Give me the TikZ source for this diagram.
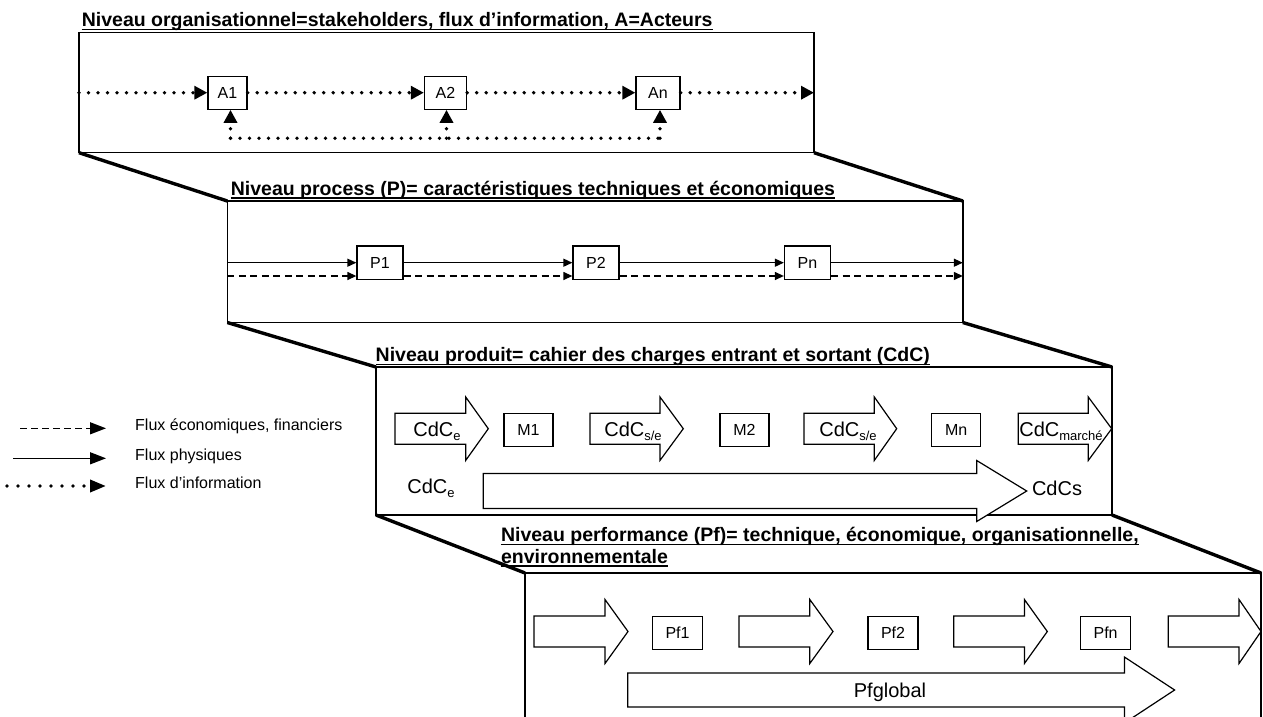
\documentclass[tikz,border=0pt]{standalone}
\usepackage{fontspec}
\setmainfont{Liberation Sans}
\usetikzlibrary{arrows.meta,calc}
\newcommand\sbs[1]{\raisebox{-0.22em}{\fontsize{13}{13}\selectfont #1}}
\newcommand\blkarrow[6]{%
  \draw[blk] (#1,#4-#5) -- (#2,#4-#5) -- (#2,#4-#6) -- (#3,#4) -- (#2,#4+#6) -- (#2,#4+#5) -- (#1,#4+#5) -- cycle;}
\begin{document}
\begin{tikzpicture}[x=1pt,y=-1pt,
  frame/.style={draw, line width=1.5pt, inner sep=0pt, outer sep=0pt, anchor=north west},
  link/.style={line width=3.4pt},
  ttl/.style={inner sep=0pt, anchor=base west, font=\fontsize{19.5}{22}\selectfont\bfseries},
  ubar/.style={line width=1.8pt},
  sbox/.style={draw, line width=1.3pt, inner sep=0pt, font=\fontsize{16}{18}\selectfont},
  blk/.style={draw, line width=1.2pt, fill=white},
  big/.style={inner sep=0pt, anchor=base, font=\fontsize{20}{22}\selectfont},
  lgd/.style={inner sep=0pt, anchor=mid west, font=\fontsize{16}{18}\selectfont},
  dotflow/.style={line width=3.8pt, line cap=round, dash pattern=on 0pt off 9.5pt, -{Triangle[length=13pt,width=13pt]}},
  dotline/.style={line width=3.8pt, line cap=round, dash pattern=on 0pt off 9.5pt},
  solidflow/.style={line width=1.4pt, -{Triangle[length=9pt,width=8pt]}},
  dashflow/.style={line width=1.3pt, dash pattern=on 7pt off 4.5pt, -{Triangle[length=9pt,width=8pt]}},
]
\useasboundingbox (0,0) rectangle (1263,717);
\fill[white] (0,0) rectangle (1263,717);
\clip (0,0) rectangle (1263,717);

% ---------- frames ----------
\node[frame, minimum width=735pt, minimum height=120pt] (L1) at (79,32.7) {};
\node[frame, minimum width=735.5pt, minimum height=121.5pt] (L2) at (227.3,201) {};
\node[frame, minimum width=736pt, minimum height=148pt] (L3) at (376,367) {};
\node[frame, minimum width=736pt, minimum height=220pt] (L4) at (525,573) {};

\draw[link] (L1.south west) -- (L2.north west);
\draw[link] (L1.south east) -- (L2.north east);
\draw[link] (L2.south west) -- (L3.north west);
\draw[link] (L2.south east) -- (L3.north east);
\draw[link] (L3.south west) -- (L4.north west);
\draw[link] (L3.south east) -- (L4.north east);

% ---------- titles ----------
\node[ttl] (t1) at (81.7,26.5) {Niveau organisationnel=stakeholders, flux d’information, A=Acteurs};
\draw[ubar] ([yshift=-3pt]t1.base west) -- ([yshift=-3pt]t1.base east);
\node[ttl] (t2) at (230.7,195) {Niveau process (P)= caractéristiques techniques et économiques};
\draw[ubar] ([yshift=-3pt]t2.base west) -- ([yshift=-3pt]t2.base east);
\node[ttl] (t3) at (375.5,361.5) {Niveau produit= cahier des charges entrant et sortant (CdC)};
\draw[ubar] ([yshift=-3pt]t3.base west) -- ([yshift=-3pt]t3.base east);
\node[ttl] (t4a) at (500.8,541.5) {Niveau performance (Pf)= technique, économique, organisationnelle,};
\draw[ubar] ([yshift=-3pt]t4a.base west) -- ([yshift=-3pt]t4a.base east);
\node[ttl] (t4b) at (500.8,563) {environnementale};
\draw[ubar] ([yshift=-3pt]t4b.base west) -- ([yshift=-3pt]t4b.base east);

% ---------- level 1: actors ----------
\node[sbox, minimum width=39pt, minimum height=33pt] (A1) at (227.5,92.7) {A1};
\node[sbox, minimum width=42pt, minimum height=33pt] (A2) at (445.5,92.7) {A2};
\node[sbox, minimum width=44pt, minimum height=33pt] (An) at (658,92.7) {An};
\draw[dotflow] (L1.west |- A1.west) -- (A1.west);
\draw[dotflow] (A1.east) -- (A2.west);
\draw[dotflow] (A2.east) -- (An.west);
\draw[dotflow] (An.east) -- (L1.east |- An.east);
\coordinate (fbrow) at (0,138.3);
\coordinate (fb1) at ($(A1.south |- fbrow)+(3,0)$);
\coordinate (fb2) at ($(A2.south |- fbrow)+(1,0)$);
\coordinate (fb3) at ($(An.south |- fbrow)+(2,0)$);
\draw[dotline] (fb1) -- (fb3);
\draw[dotflow] (fb1) -- (fb1 |- A1.south);
\draw[dotflow] (fb2) -- (fb2 |- A2.south);
\draw[dotflow] (fb3) -- (fb3 |- An.south);

% ---------- level 2: process ----------
\node[sbox, minimum width=46pt, minimum height=33.3pt] (P1) at (380,262.7) {P1};
\node[sbox, minimum width=46pt, minimum height=33.3pt] (P2) at (596,262.7) {P2};
\node[sbox, minimum width=46pt, minimum height=33.3pt] (Pn) at (807.5,262.7) {Pn};
\draw[solidflow] (L2.west |- P1.west) -- (P1.west);
\draw[solidflow] (P1.east) -- (P2.west);
\draw[solidflow] (P2.east) -- (Pn.west);
\draw[solidflow] (Pn.east) -- (L2.east |- Pn.east);
\draw[dashflow] ($(L2.west |- P1.west)+(0,13.3)$) -- ($(P1.west)+(0,13.3)$);
\draw[dashflow] ($(P1.east)+(0,13.3)$) -- ($(P2.west)+(0,13.3)$);
\draw[dashflow] ($(P2.east)+(0,13.3)$) -- ($(Pn.west)+(0,13.3)$);
\draw[dashflow] ($(Pn.east)+(0,13.3)$) -- ($(L2.east |- Pn.east)+(0,13.3)$);

% ---------- level 3: product ----------
\blkarrow{395}{465.7}{488.3}{428.7}{15.5}{31.7}
\blkarrow{590}{660}{683.3}{428.7}{15.5}{31.7}
\blkarrow{804}{874.3}{896.7}{428.7}{15.5}{31.7}
\blkarrow{1018.3}{1088.3}{1111.7}{428.7}{15.5}{31.7}
\node[big] (c1) at (437,436.5) {CdC\sbs{e}};
\node[big] (c2) at (633,436.5) {CdC\sbs{s/e}};
\node[big] (c3) at (848,436.5) {CdC\sbs{s/e}};
\node[big] (c4) at (1061,436.5) {CdC\sbs{marché}};
\node[sbox, minimum width=49pt, minimum height=33.4pt] (M1) at (528.5,430) {M1};
\node[sbox, minimum width=49pt, minimum height=33.4pt] (M2) at (744.5,430) {M2};
\node[sbox, minimum width=49pt, minimum height=33.4pt] (Mn) at (956.2,430) {Mn};
\blkarrow{483.3}{976.7}{1026.7}{491}{17.5}{30.5}
\node[big] (c5) at (431,493.3) {CdC\sbs{e}};
\node[big] (c6) at (1057,495.5) {CdCs};

% ---------- level 4: performance ----------
\blkarrow{534}{605}{628}{631.5}{15.5}{32}
\blkarrow{739}{809.8}{833}{631.5}{15.5}{32}
\blkarrow{953.7}{1024.4}{1047.3}{631.5}{15.5}{32}
\blkarrow{1168.3}{1239}{1261}{631.5}{15.5}{32}
\node[sbox, minimum width=50pt, minimum height=32.6pt] (Pf1) at (677.5,633) {Pf1};
\node[sbox, minimum width=50pt, minimum height=32.6pt] (Pf2) at (893,633) {Pf2};
\node[sbox, minimum width=50pt, minimum height=32.6pt] (Pfn) at (1105.6,633) {Pfn};
\blkarrow{627.8}{1124.4}{1174.6}{690}{17}{33}
\node[big] (pg) at (890,697) {Pfglobal};

% ---------- legend ----------
\coordinate (lg1s) at (20,428.3);  \coordinate (lg1e) at (106,428.3);
\coordinate (lg2s) at (13,458.3);  \coordinate (lg2e) at (106,458.3);
\coordinate (lg3s) at (7,486);     \coordinate (lg3e) at (106,486);
\draw[line width=1.3pt, dash pattern=on 6.7pt off 4.3pt, -{Triangle[length=16pt,width=12pt]}] (lg1s) -- (lg1e);
\draw[line width=1.4pt, -{Triangle[length=16pt,width=12pt]}] (lg2s) -- (lg2e);
\draw[line width=3.6pt, line cap=round, dash pattern=on 0pt off 11pt, -{Triangle[length=16pt,width=12pt]}] (lg3s) -- (lg3e);
\node[lgd] (lt1) at (135,428.3) {Flux économiques, financiers};
\node[lgd] (lt2) at (135,458.3) {Flux physiques};
\node[lgd] (lt3) at (135,486) {Flux d’information};
\end{tikzpicture}
\end{document}
